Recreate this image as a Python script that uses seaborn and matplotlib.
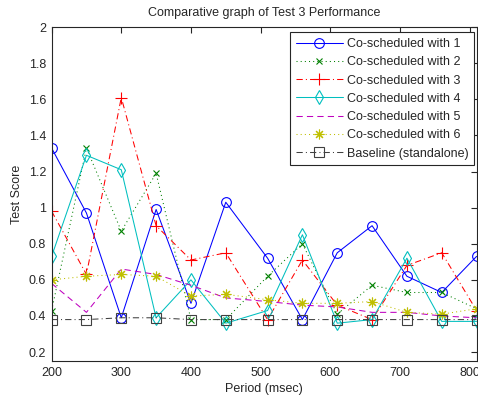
import matplotlib
matplotlib.use("Agg")
import matplotlib.pyplot as plt
import seaborn as sns
import pandas as pd

# Periods tested (msec)
periods = [200, 250, 300, 350, 400, 450, 510, 560, 610, 660, 710, 760, 810]

# Test scores for each co-scheduling configuration
cosched_1 = [1.33, 0.97, 0.39, 0.99, 0.47, 1.03, 0.72, 0.38, 0.75, 0.90, 0.62, 0.53, 0.73]
cosched_2 = [0.43, 1.33, 0.87, 1.19, 0.38, 0.38, 0.62, 0.80, 0.41, 0.57, 0.53, 0.53, 0.44]
cosched_3 = [0.98, 0.63, 1.61, 0.90, 0.71, 0.75, 0.38, 0.71, 0.46, 0.38, 0.68, 0.75, 0.43]
cosched_4 = [0.73, 1.29, 1.21, 0.39, 0.60, 0.36, 0.43, 0.85, 0.36, 0.38, 0.72, 0.37, 0.37]
cosched_5 = [0.58, 0.42, 0.66, 0.63, 0.57, 0.50, 0.48, 0.46, 0.45, 0.42, 0.42, 0.40, 0.39]
cosched_6 = [0.60, 0.62, 0.63, 0.62, 0.51, 0.52, 0.49, 0.47, 0.47, 0.48, 0.42, 0.41, 0.44]
baseline = [0.38, 0.38, 0.39, 0.39, 0.38, 0.38, 0.38, 0.38, 0.38, 0.38, 0.38, 0.38, 0.38]

labels = ["Co-scheduled with 1", "Co-scheduled with 2", "Co-scheduled with 3",
          "Co-scheduled with 4", "Co-scheduled with 5", "Co-scheduled with 6",
          "Baseline (standalone)"]
x_ticks = [200, 300, 400, 500, 600, 700, 800]
y_ticks = [0.2, 0.4, 0.6, 0.8, 1.0, 1.2, 1.4, 1.6, 1.8, 2.0]

sns.set_style("white")
plt.rcParams["font.family"] = ["Liberation Sans", "DejaVu Sans"]

series = [cosched_1, cosched_2, cosched_3, cosched_4, cosched_5, cosched_6, baseline]
styles = [
    dict(color=(0, 0, 1), marker="o", ms=7, dashes=None),
    dict(color=(0, 0.5, 0), marker="x", ms=4.5, dashes=(1, 3)),
    dict(color=(1, 0, 0), marker="+", ms=8, dashes=(6, 3, 1, 3)),
    dict(color=(0, 0.75, 0.75), marker="d", ms=7.5, dashes=None),
    dict(color=(0.75, 0, 0.75), marker="", ms=0, dashes=(6, 4)),
    dict(color=(0.75, 0.75, 0), marker=(8, 2, 0), ms=7, dashes=(1, 3)),
    dict(color=(0.25, 0.25, 0.25), marker="s", ms=7, dashes=(6, 3, 1, 3)),
]

fig = plt.figure(figsize=(4.78, 3.99), dpi=100)
ax = fig.add_axes([0.108, 0.095, 0.889, 0.837])

for vals, lab, st in zip(series, labels, styles):
    df = pd.DataFrame({"Period": periods, "Score": vals})
    sns.lineplot(data=df, x="Period", y="Score", ax=ax, color=st["color"],
                 linewidth=0.75, label=lab)
    line = ax.lines[-1]
    line.set_marker(st["marker"])
    line.set_markersize(st["ms"])
    line.set_markerfacecolor("none")
    line.set_markeredgecolor(st["color"])
    line.set_markeredgewidth(0.8)
    if st["dashes"] is None:
        line.set_linestyle("-")
    else:
        line.set_dashes(st["dashes"])

ax.set_xlim(200, 810)
ax.set_ylim(0.15, 2.0)
ax.set_xticks(x_ticks)
ax.set_xticklabels([str(t) for t in x_ticks])
ax.set_yticks(y_ticks)
ax.set_yticklabels(["0.2", "0.4", "0.6", "0.8", "1", "1.2", "1.4", "1.6", "1.8", "2"])
ax.tick_params(direction="in", length=4, width=0.8, top=True, right=True,
               labelsize=9, colors=(0.15, 0.15, 0.15), pad=4)
for s in ax.spines.values():
    s.set_color((0.15, 0.15, 0.15))
    s.set_linewidth(0.8)

ax.set_xlabel("Period (msec)", fontsize=9, color=(0.15, 0.15, 0.15), labelpad=3)
ax.set_ylabel("Test Score", fontsize=9, color=(0.15, 0.15, 0.15), labelpad=4)
ax.set_title("Comparative graph of Test 3 Performance", fontsize=9, pad=8)

handles, names = ax.get_legend_handles_labels()
leg = ax.legend(handles, names, loc="upper right", fontsize=9, numpoints=1,
                handlelength=3.8, handletextpad=0.3, labelspacing=0.5,
                borderpad=0.45, borderaxespad=0, fancybox=False, framealpha=1,
                edgecolor=(0.15, 0.15, 0.15), bbox_to_anchor=(0.994, 0.984))
leg.get_frame().set_linewidth(0.8)

fig.savefig("out.png", dpi=100)
